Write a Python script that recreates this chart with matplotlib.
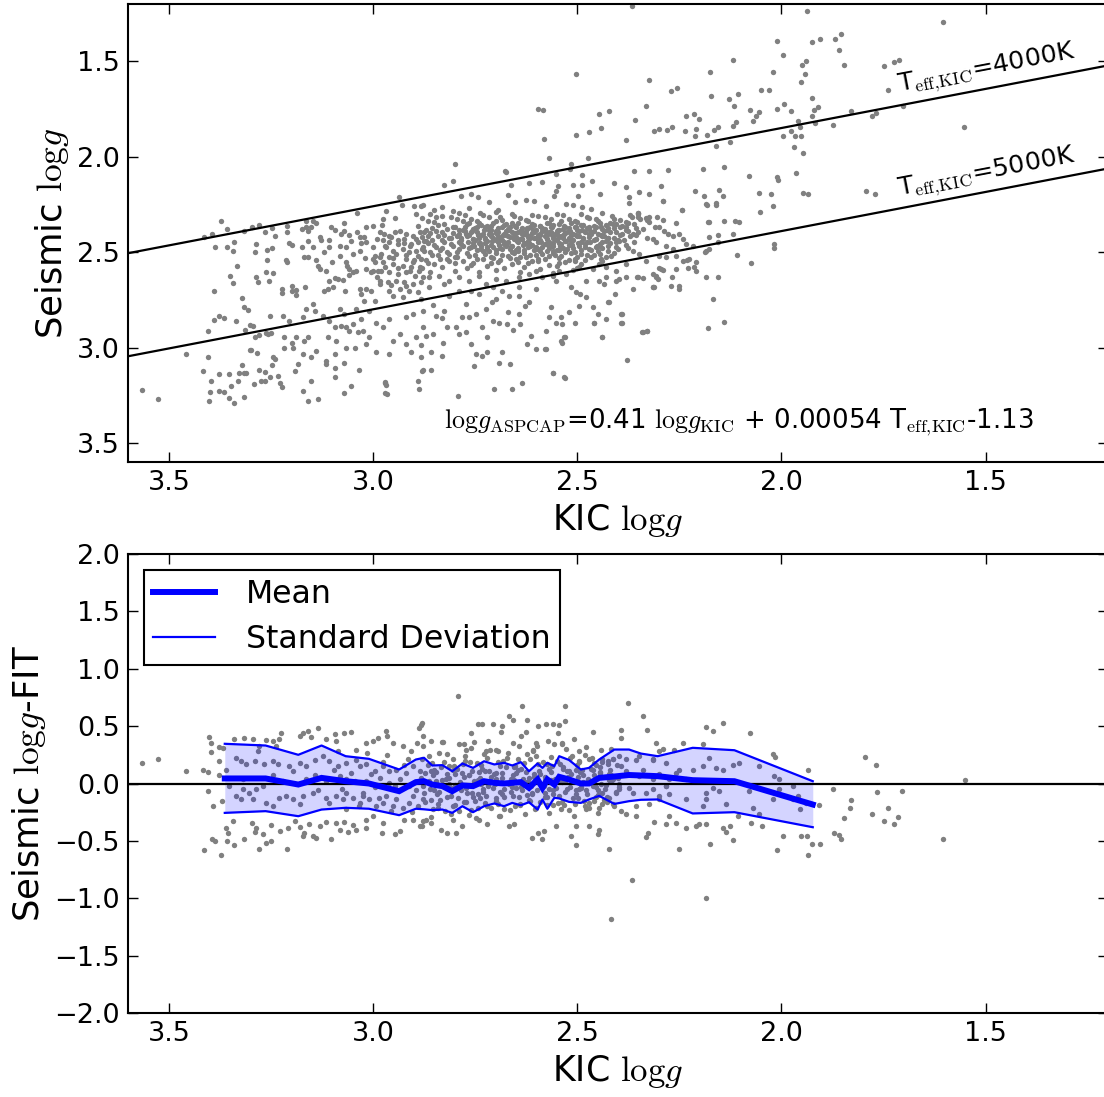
import matplotlib
matplotlib.use("Agg")
import matplotlib.pyplot as plt
import numpy as np

plt.rcParams['mathtext.fontset'] = 'cm'
plt.rcParams['font.family'] = ['DejaVu Sans']

# ---------------- data ----------------
fit_a, fit_b, fit_c = 0.41, 0.00054, -1.13
teff_lines = [4000, 5000]
teff_labels = [r'T$_{\rm eff,\!KIC}$=4000K', r'T$_{\rm eff,\!KIC}$=5000K']
xticks = [3.5, 3.0, 2.5, 2.0, 1.5]
top_yticks = [1.5, 2.0, 2.5, 3.0, 3.5]
bot_yticks = [-2.0, -1.5, -1.0, -0.5, 0.0, 0.5, 1.0, 1.5, 2.0]

# top panel: (KIC logg, seismic logg)
top_left = [
(3.566,3.222),(3.527,3.271),(3.458,3.035),(3.39,2.706),(3.387,2.475),(3.372,2.335),(3.415,2.422),(3.394,2.405),
(3.357,2.471),(3.344,2.496),(3.341,2.445),(3.351,2.625),(3.342,2.66),(3.333,2.573),(3.322,2.743),(3.315,2.786),
(3.305,2.806),(3.39,2.856),(3.376,2.834),(3.366,2.846),(3.405,2.912),(3.405,3.049),(3.417,3.122),(3.397,3.178),
(3.399,3.233),(3.402,3.28),(3.378,3.14),(3.378,3.227),(3.366,3.231),(3.352,3.14),(3.348,3.201),(3.352,3.266),
(3.34,3.292),(3.329,3.136),(3.33,3.175),(3.32,3.091),(3.315,3.136),(3.316,3.262),(3.335,2.86),(3.313,2.907),
(3.301,2.881),(3.295,2.886),(3.301,3.014),(3.29,2.944),(3.283,3.031),(3.28,3.119),(3.291,3.189),(3.275,3.177),
(3.264,3.175),(3.265,3.131),(3.247,3.091),(3.241,3.061),(3.252,3.157),(3.233,3.149),(3.228,3.184),(3.223,3.205),
(3.253,2.834),(3.258,2.93),(3.25,2.926),(3.286,2.629),(3.282,2.659),(3.255,2.653),(3.261,2.603),(3.246,2.61),
(3.259,2.541),(3.29,2.498),(3.286,2.457),(3.259,2.487),(3.248,2.48),(3.24,2.414),(3.264,2.393),(3.248,2.373),
(3.28,2.358),(3.296,2.366),(3.315,2.387),(3.357,2.379),(3.21,2.361),(3.21,2.396),(3.205,2.454),(3.199,2.463),
(3.214,2.541),(3.21,2.554),(3.223,2.694),(3.223,2.716),(3.199,2.676),(3.198,2.706),(3.188,2.699),(3.188,2.723),
(3.167,2.681),(3.173,2.475),(3.174,2.379),(3.164,2.366),(3.158,2.387),(3.152,2.37),(3.165,2.338),(3.147,2.338),
(3.139,2.349),(3.17,2.527),(3.16,2.524),(3.158,2.44),(3.131,2.422),(3.127,2.436),(3.108,2.436),(3.103,2.37),
(3.093,2.384),(3.072,2.349),(3.072,2.387),(3.04,2.295),(3.058,2.41),(3.039,2.393),(3.017,2.37),(3.0,2.361),
(2.978,2.356),(2.976,2.326),(2.968,2.286),(2.947,2.321),(2.93,2.251),(2.9,2.261),(2.883,2.256),(2.894,2.3),
(2.936,2.212),
]
top_left_dense = [
(2.984,2.396),(2.972,2.405),(2.96,2.414),(2.947,2.396),(2.935,2.387),(2.919,2.405),(2.902,2.414),(2.886,2.396),
(2.976,2.436),(2.96,2.449),(2.939,2.436),(2.923,2.454),(2.906,2.457),(2.89,2.449),(2.874,2.44),(2.968,2.475),
(2.951,2.492),(2.927,2.484),(2.911,2.501),(2.894,2.492),(2.878,2.475),(2.984,2.527),(2.96,2.527),(2.943,2.51),
(2.919,2.536),(2.902,2.554),(2.882,2.536),(2.996,2.554),(2.976,2.554),(2.951,2.562),(2.927,2.571),(2.906,2.58),
(2.886,2.58),(3.0,2.597),(2.98,2.597),(2.96,2.606),(2.939,2.615),(2.919,2.606),(2.898,2.624),(2.878,2.632),
(2.984,2.65),(2.964,2.659),(2.943,2.65),(2.923,2.659),(2.902,2.667),(2.882,2.659),(2.96,2.702),(2.935,2.694),
(2.911,2.702),(2.89,2.711),(2.951,2.729),(2.927,2.737),
(3.135,2.571),(3.131,2.589),(3.115,2.601),(3.107,2.65),(3.094,2.636),(3.085,2.641),(3.074,2.646),(3.066,2.554),
(3.063,2.571),(3.058,2.589),(3.049,2.606),(3.041,2.597),(3.033,2.492),(3.017,2.589),(3.004,2.606),(3.0,2.536),
(2.996,2.519),(2.988,2.597),(3.111,2.694),(3.098,2.681),(3.068,2.706),(3.033,2.694),(3.029,2.72),(3.017,2.694),
(3.021,2.755),(3.004,2.702),(2.996,2.755),(2.984,2.667),(3.119,2.702),(3.082,2.466),(3.066,2.475),(3.053,2.44),
(3.033,2.419),(3.021,2.422),(3.017,2.449),(3.0,2.475),(3.078,2.405),(3.107,2.475),(3.147,2.475),
(2.99,2.43),(2.97,2.47),(2.955,2.42),(2.94,2.46),(2.925,2.43),(2.91,2.47),(2.895,2.43),(2.98,2.51),(2.95,2.53),
(2.92,2.515),(2.90,2.54),(3.03,2.45),(3.05,2.51),(3.02,2.53),(3.08,2.52),(3.1,2.55),(3.06,2.62),(3.12,2.5),
(3.14,2.54),(2.97,2.58),(2.94,2.585),(2.91,2.6),(2.99,2.63),(2.955,2.675),(2.92,2.68),
]
top_left_low = [
(3.164,2.799),(3.147,2.772),(3.141,2.807),(3.123,2.834),(3.107,2.86),(3.094,2.895),(3.078,2.886),(3.066,2.895),
(3.058,2.912),(3.049,2.877),(3.037,2.921),(3.025,2.912),(3.009,2.947),(2.992,2.869),(2.976,2.895),(2.96,2.851),
(2.951,2.965),(2.935,2.93),(2.919,2.842),(2.902,2.825),(2.894,2.947),(2.878,2.895),(3.111,2.947),(3.09,2.965),
(3.066,3.0),(3.045,3.0),(3.017,2.982),(2.992,3.026),(2.96,3.035),(2.919,2.982),(2.906,3.026),(2.882,3.052),
(3.217,2.947),(3.198,2.974),(3.188,2.947),(3.168,2.965),(3.16,2.947),(3.197,3.0),(3.172,3.035),(3.152,3.052),
(3.139,3.017),(3.115,3.07),(3.094,3.035),(3.07,3.079),(3.094,3.105),(3.093,3.157),(3.152,3.175),(3.135,3.271),
(3.16,3.28),(3.172,3.227),(3.184,3.087),(3.192,3.122),(3.115,3.087),(3.054,3.201),(3.035,3.119),(3.072,3.241),
(2.97,3.184),(2.969,3.196),(2.965,3.245),(2.89,3.175),(2.888,3.219),(2.88,3.122),(3.221,2.834),(3.205,2.86),
(3.172,2.842),(3.217,3.003),(3.246,3.052),(3.311,3.136),(3.3,3.014),(3.28,2.935),(3.262,2.926),(3.082,2.799),
(3.041,2.799),(3.07,2.825),(3.029,2.851),(3.009,2.807),(2.971,3.18),(2.97,3.24),(2.857,3.12),(2.878,3.12),
(2.792,3.253),(2.704,3.22),(2.659,3.217),(2.635,3.187),
]
top_core = [
(2.86,2.301),(2.79,2.296),(2.73,2.305),(2.66,2.299),(2.61,2.306),(2.55,2.298),(2.49,2.303),(2.44,2.295),(2.37,2.307),(2.83,2.309),(2.70,2.292),
(2.88,2.322),(2.81,2.318),(2.76,2.326),(2.69,2.315),(2.64,2.324),(2.58,2.317),(2.52,2.328),(2.47,2.319),(2.41,2.325),(2.35,2.316),
(2.85,2.342),(2.78,2.338),(2.74,2.347),(2.70,2.336),(2.66,2.345),(2.62,2.339),(2.57,2.348),(2.54,2.335),(2.50,2.343),(2.45,2.337),(2.42,2.349),(2.38,2.341),(2.33,2.334),
(2.89,2.362),(2.84,2.357),(2.80,2.366),(2.77,2.355),(2.72,2.364),(2.68,2.358),(2.65,2.367),(2.61,2.354),(2.59,2.363),(2.56,2.359),(2.53,2.368),(2.49,2.356),(2.46,2.365),(2.43,2.358),(2.39,2.362),(2.36,2.355),(2.31,2.366),
(2.87,2.382),(2.82,2.378),(2.78,2.386),(2.75,2.375),(2.71,2.384),(2.67,2.379),(2.64,2.388),(2.62,2.376),(2.60,2.383),(2.58,2.377),(2.55,2.387),(2.52,2.374),(2.50,2.385),(2.47,2.379),(2.44,2.381),(2.41,2.376),(2.38,2.386),(2.34,2.379),
(2.86,2.402),(2.83,2.397),(2.79,2.406),(2.76,2.395),(2.73,2.404),(2.70,2.398),(2.68,2.407),(2.66,2.394),(2.63,2.403),(2.61,2.399),(2.59,2.408),(2.57,2.396),(2.55,2.404),(2.53,2.398),(2.51,2.406),(2.48,2.395),(2.45,2.403),(2.42,2.397),(2.39,2.405),(2.35,2.396),
(2.88,2.422),(2.84,2.417),(2.81,2.426),(2.77,2.415),(2.74,2.424),(2.71,2.418),(2.69,2.427),(2.67,2.414),(2.65,2.423),(2.62,2.419),(2.60,2.428),(2.58,2.416),(2.56,2.424),(2.54,2.418),(2.52,2.426),(2.50,2.415),(2.47,2.423),(2.44,2.417),(2.41,2.425),(2.37,2.416),(2.33,2.424),
(2.87,2.442),(2.83,2.437),(2.79,2.446),(2.75,2.435),(2.72,2.444),(2.70,2.438),(2.67,2.447),(2.64,2.434),(2.62,2.443),(2.59,2.439),(2.57,2.448),(2.55,2.436),(2.53,2.444),(2.51,2.438),(2.49,2.446),(2.46,2.435),(2.43,2.443),(2.40,2.437),(2.36,2.445),
(2.85,2.462),(2.81,2.457),(2.78,2.466),(2.74,2.455),(2.71,2.464),(2.68,2.458),(2.66,2.467),(2.63,2.454),(2.61,2.463),(2.58,2.459),(2.56,2.468),(2.54,2.456),(2.52,2.464),(2.48,2.458),(2.45,2.466),(2.42,2.455),(2.38,2.463),
(2.88,2.482),(2.83,2.477),(2.79,2.486),(2.76,2.475),(2.72,2.484),(2.69,2.478),(2.65,2.487),(2.62,2.474),(2.60,2.483),(2.57,2.479),(2.55,2.488),(2.51,2.476),(2.47,2.484),(2.44,2.478),(2.40,2.486),
(2.86,2.502),(2.82,2.497),(2.77,2.506),(2.73,2.495),(2.70,2.504),(2.66,2.498),(2.63,2.507),(2.59,2.494),(2.56,2.503),(2.53,2.499),(2.49,2.508),(2.45,2.496),(2.41,2.504),
(2.89,2.522),(2.84,2.517),(2.80,2.526),(2.75,2.515),(2.71,2.524),(2.67,2.518),(2.64,2.527),(2.60,2.514),(2.57,2.523),(2.54,2.519),(2.50,2.528),(2.46,2.516),(2.43,2.524),
(2.87,2.542),(2.82,2.537),(2.78,2.546),(2.73,2.535),(2.69,2.544),(2.65,2.538),(2.61,2.547),(2.58,2.534),(2.52,2.543),(2.48,2.539),(2.44,2.546),
(2.85,2.562),(2.80,2.557),(2.76,2.566),(2.71,2.555),(2.66,2.564),(2.62,2.558),(2.57,2.567),(2.53,2.554),(2.49,2.563),
(2.88,2.582),(2.83,2.577),(2.77,2.586),(2.72,2.575),(2.68,2.584),(2.63,2.578),(2.59,2.587),(2.55,2.574),(2.50,2.583),
(2.86,2.602),(2.80,2.597),(2.74,2.606),(2.70,2.595),(2.64,2.604),(2.60,2.598),(2.56,2.607),(2.51,2.594),
]
top_core2 = [
(2.845,2.315),(2.775,2.308),(2.715,2.318),(2.655,2.310),(2.595,2.313),(2.535,2.306),(2.475,2.316),(2.415,2.309),(2.365,2.314),
(2.865,2.335),(2.795,2.328),(2.745,2.338),(2.685,2.330),(2.625,2.333),(2.565,2.326),(2.505,2.336),(2.455,2.329),(2.395,2.334),(2.345,2.327),
(2.825,2.355),(2.765,2.348),(2.735,2.358),(2.705,2.350),(2.675,2.353),(2.645,2.346),(2.605,2.356),(2.575,2.349),(2.545,2.354),(2.515,2.347),(2.485,2.357),(2.445,2.350),(2.405,2.353),(2.375,2.346),
(2.855,2.375),(2.805,2.368),(2.755,2.378),(2.725,2.370),(2.695,2.373),(2.665,2.366),(2.635,2.376),(2.615,2.369),(2.585,2.374),(2.565,2.367),(2.535,2.377),(2.505,2.370),(2.475,2.373),(2.455,2.366),(2.425,2.376),(2.395,2.369),(2.355,2.374),
(2.875,2.395),(2.845,2.388),(2.805,2.398),(2.775,2.390),(2.745,2.393),(2.715,2.386),(2.695,2.396),(2.675,2.389),(2.645,2.394),(2.625,2.387),(2.605,2.397),(2.585,2.390),(2.565,2.393),(2.545,2.386),(2.525,2.396),(2.495,2.389),(2.465,2.394),(2.435,2.387),(2.405,2.397),(2.375,2.390),
(2.865,2.415),(2.825,2.408),(2.795,2.418),(2.765,2.410),(2.735,2.413),(2.715,2.406),(2.695,2.416),(2.675,2.409),(2.655,2.414),(2.635,2.407),(2.615,2.417),(2.595,2.410),(2.575,2.413),(2.555,2.406),(2.535,2.416),(2.515,2.409),(2.495,2.414),(2.465,2.407),(2.435,2.417),(2.395,2.410),(2.355,2.413),
(2.855,2.435),(2.815,2.428),(2.785,2.438),(2.755,2.430),(2.725,2.433),(2.705,2.426),(2.685,2.436),(2.655,2.429),(2.635,2.434),(2.615,2.427),(2.595,2.437),(2.575,2.430),(2.555,2.433),(2.535,2.426),(2.515,2.436),(2.485,2.429),(2.455,2.434),(2.425,2.427),(2.385,2.437),
(2.865,2.455),(2.825,2.448),(2.785,2.458),(2.755,2.450),(2.725,2.453),(2.695,2.446),(2.675,2.456),(2.645,2.449),(2.625,2.454),(2.595,2.447),(2.575,2.457),(2.545,2.450),(2.515,2.453),(2.475,2.446),(2.445,2.456),(2.405,2.449),
(2.845,2.475),(2.805,2.468),(2.765,2.478),(2.735,2.470),(2.705,2.473),(2.675,2.466),(2.645,2.476),(2.615,2.469),(2.585,2.474),(2.565,2.467),(2.535,2.477),(2.495,2.470),(2.455,2.473),(2.425,2.466),(2.375,2.476),
(2.875,2.495),(2.835,2.488),(2.795,2.498),(2.745,2.490),(2.715,2.493),(2.685,2.486),(2.645,2.496),(2.605,2.489),(2.575,2.494),(2.545,2.487),(2.505,2.497),(2.465,2.490),(2.425,2.493),
(2.855,2.515),(2.815,2.508),(2.765,2.518),(2.725,2.510),(2.685,2.513),(2.655,2.506),(2.615,2.516),(2.585,2.509),(2.555,2.514),(2.515,2.507),(2.475,2.517),(2.445,2.510),
(2.835,2.535),(2.795,2.528),(2.745,2.538),(2.705,2.530),(2.665,2.533),(2.625,2.526),(2.595,2.536),(2.545,2.529),(2.505,2.534),(2.465,2.527),
(2.865,2.555),(2.815,2.548),(2.755,2.558),(2.695,2.550),(2.645,2.553),(2.595,2.546),(2.545,2.556),(2.505,2.549),
]
top_core3 = [
(2.775,2.366),(2.745,2.371),(2.712,2.364),(2.683,2.369),(2.652,2.362),(2.622,2.372),(2.592,2.365),(2.562,2.37),(2.532,2.363),(2.502,2.371),(2.472,2.366),(2.442,2.369),
(2.79,2.386),(2.758,2.391),(2.728,2.384),(2.698,2.389),(2.668,2.382),(2.638,2.392),(2.608,2.385),(2.578,2.39),(2.548,2.383),(2.518,2.391),(2.488,2.386),(2.458,2.389),(2.428,2.384),
(2.772,2.406),(2.742,2.411),(2.712,2.404),(2.682,2.409),(2.652,2.402),(2.622,2.412),(2.592,2.405),(2.562,2.41),(2.532,2.403),(2.502,2.411),(2.472,2.406),(2.442,2.409),
(2.785,2.426),(2.755,2.431),(2.725,2.424),(2.695,2.429),(2.665,2.422),(2.635,2.432),(2.605,2.425),(2.575,2.43),(2.545,2.423),(2.515,2.431),(2.485,2.426),(2.455,2.429),(2.425,2.424),
(2.768,2.446),(2.738,2.451),(2.708,2.444),(2.678,2.449),(2.648,2.442),(2.618,2.452),(2.588,2.445),(2.558,2.45),(2.528,2.443),(2.498,2.451),(2.468,2.446),(2.438,2.449),
(2.752,2.466),(2.722,2.471),(2.692,2.464),(2.662,2.469),(2.632,2.462),(2.602,2.472),(2.572,2.465),(2.542,2.47),(2.512,2.463),(2.482,2.471),(2.452,2.466),
(2.735,2.486),(2.70,2.491),(2.665,2.484),(2.63,2.489),(2.595,2.482),(2.56,2.492),(2.525,2.485),(2.49,2.49),
]
top_mid = [
(2.38,2.16),(2.212,2.181),(2.784,2.205),(2.76,2.198),(2.742,2.209),(2.717,2.239),(2.669,2.2),(2.653,2.239),
(2.626,2.226),(2.605,2.23),(2.577,2.256),(2.556,2.204),(2.552,2.181),(2.527,2.247),(2.511,2.251),(2.499,2.204),
(2.487,2.265),(2.466,2.274),(2.444,2.198),(2.372,2.212),(2.374,2.244),(2.348,2.186),(2.323,2.198),(2.289,2.23),
(2.183,2.251),(2.16,2.244),(2.877,2.251),(2.85,2.282),(2.83,2.265),(2.805,2.286),(2.764,2.268),(2.738,2.295),
(2.693,2.279),(2.243,2.279),(2.352,2.296),
(2.352,2.3),(2.331,2.321),(2.323,2.344),(2.305,2.314),(2.299,2.37),(2.287,2.387),(2.278,2.405),(2.266,2.414),
(2.25,2.405),(2.242,2.431),(2.233,2.457),(2.217,2.466),(2.184,2.492),(2.176,2.484),(2.156,2.449),(2.315,2.431),
(2.307,2.449),(2.282,2.466),(2.266,2.484),(2.299,2.519),(2.282,2.527),(2.258,2.519),(2.242,2.545),(2.225,2.536),
(2.209,2.554),(2.299,2.583),(2.258,2.589),(2.229,2.583),(2.315,2.615),(2.291,2.594),(2.352,2.629),(2.34,2.636),
(2.307,2.624),(2.303,2.641),(2.315,2.681),(2.27,2.676),(2.25,2.694),(2.18,2.344),(2.258,2.349),(2.413,2.352),
(2.38,2.37),(2.364,2.405),(2.397,2.44),(2.405,2.475),(2.364,2.492),(2.348,2.51),(2.331,2.545),(2.38,2.562),
(2.405,2.597),(2.43,2.633),(2.397,2.641),(2.417,2.519),(2.442,2.536),(2.446,2.562),
(2.887,2.597),(2.862,2.633),(2.838,2.624),(2.813,2.65),(2.789,2.633),(2.764,2.65),(2.74,2.624),(2.724,2.667),
(2.862,2.685),(2.826,2.667),(2.699,2.641),(2.675,2.65),(2.642,2.633),(2.617,2.615),(2.585,2.633),(2.56,2.624),
(2.544,2.597),(2.527,2.615),(2.495,2.58),(2.462,2.589),(2.43,2.58),
]
top_mid_low = [
(2.883,2.746),(2.854,2.776),(2.877,2.811),(2.826,2.807),(2.846,2.834),(2.831,2.846),(2.818,2.895),(2.854,2.93),
(2.871,2.939),(2.828,2.979),(2.883,2.986),(2.858,3.026),(2.83,3.044),(2.789,2.93),(2.797,2.895),(2.773,2.921),
(2.764,2.842),(2.76,2.982),(2.748,3.035),(2.752,3.096),(2.732,3.047),(2.72,3.026),(2.72,2.947),(2.732,2.895),
(2.706,2.86),(2.691,2.869),(2.709,2.764),(2.699,2.746),(2.673,2.877),(2.657,2.909),(2.691,3.079),(2.665,3.084),
(2.683,3.026),(2.64,2.877),(2.627,2.781),(2.617,2.764),(2.613,2.939),(2.624,2.982),(2.6,3.009),(2.578,3.009),
(2.577,2.912),(2.57,2.839),(2.564,2.79),(2.552,2.869),(2.536,2.877),(2.532,2.947),(2.536,2.974),(2.56,3.136),
(2.532,3.157),(2.519,2.816),(2.495,2.781),(2.478,2.737),(2.458,2.869),(2.448,2.825),(2.44,2.947),(2.423,2.764),
(2.393,2.825),(2.393,2.869),(2.378,3.066),(2.341,2.921),(2.329,2.912),(2.315,2.685),(2.18,2.9),(2.168,2.746),
(2.209,2.601),(2.295,2.589),(2.184,2.629),(2.601,2.694),(2.552,2.65),(2.515,2.685),(2.503,2.711),(2.446,2.65),
(2.405,2.65),(2.479,2.65),(2.38,2.633),(2.683,2.702),(2.666,2.729),(2.642,2.729),(2.642,2.685),(2.707,2.685),
(2.74,2.72),(2.76,2.702),(2.789,2.702),(2.813,2.729),(2.773,2.772),(2.724,2.799),(2.748,2.825),(2.67,2.816),
(2.642,2.825),(2.781,2.842),(2.141,2.867),(2.108,2.513),(2.075,2.557),(2.018,2.457),(2.018,2.478),
(2.243,2.279),(2.289,2.23),(2.35,2.296),(2.324,2.314),(2.289,2.331),(2.39,2.874),(2.39,2.825),(2.43,2.851),
(2.439,2.947),(2.458,2.874),(2.505,2.874),(2.54,2.842),(2.425,2.764),(2.461,2.79),(2.492,2.72),(2.434,2.667),
(2.364,2.694),(2.408,2.72),(2.267,2.632),(2.251,2.676),(2.306,2.629),(2.313,2.681),(2.353,2.632),(2.154,2.629),
(2.231,2.54),(2.214,2.58),(2.187,2.501),(2.34,2.921),(2.328,2.912),(2.531,3.161),(2.558,3.136),(2.54,2.965),
(2.53,2.947),(2.577,3.008),
]
top_upper = [
(2.366,1.21),(2.503,1.568),(2.325,1.6),(2.271,1.656),(2.256,1.638),(2.596,1.75),(2.583,1.757),(2.447,1.778),
(2.423,1.763),(2.331,1.733),(2.358,1.81),(2.581,1.908),(2.503,1.889),(2.47,1.871),(2.442,1.848),(2.38,1.915),
(2.313,1.866),(2.299,1.855),(2.281,1.862),(2.268,1.845),(2.236,1.868),(2.233,1.789),(2.215,1.775),(2.209,1.854),
(2.212,1.892),(2.201,1.803),(2.799,2.037),(2.827,2.151),(2.805,2.13),(2.675,2.079),(2.662,2.148),(2.617,2.139),
(2.586,2.135),(2.568,2.009),(2.552,2.093),(2.548,2.156),(2.515,2.037),(2.518,2.067),(2.509,2.146),(2.474,2.009),
(2.487,2.097),(2.488,2.146),(2.464,2.125),(2.411,2.137),(2.36,2.074),(2.323,2.076),(2.278,2.072),(2.294,2.155),
(2.676,2.077),
(1.936,1.238),(1.605,1.295),(2.011,1.393),(1.925,1.399),(1.905,1.386),(1.869,1.381),(1.854,1.358),(1.858,1.439),
(1.846,1.518),(1.995,1.469),(2.119,1.493),(2.174,1.558),(2.021,1.558),(1.94,1.5),(1.949,1.519),(1.941,1.568),
(1.953,1.61),(2.05,1.652),(2.031,1.649),(2.105,1.672),(2.129,1.698),(2.173,1.68),(2.116,1.733),(2.076,1.757),
(2.062,1.789),(2.054,1.766),(2.07,1.815),(2.011,1.75),(1.993,1.724),(1.977,1.761),(1.926,1.694),(1.919,1.754),
(1.91,1.742),(1.926,1.787),(1.918,1.822),(1.96,1.813),(1.954,1.845),(1.976,1.866),(1.995,1.894),(1.966,1.894),
(1.953,1.894),(1.97,1.95),(1.948,1.98),(1.874,1.833),(1.829,1.761),(1.779,1.789),(1.768,1.77),(1.748,1.523),
(1.725,1.505),(1.713,1.491),(1.739,1.652),(1.703,1.733),(1.552,1.845),(2.111,1.819),(2.119,1.841),(2.156,1.845),
(2.164,1.862),(2.181,1.889),(2.16,1.945),(2.126,1.924),(2.14,2.055),(2.193,2.064),(2.08,2.102),(2.011,2.104),
(2.007,2.12),(1.963,2.085),(2.054,2.188),(2.025,2.198),(1.946,2.188),(1.935,2.198),(1.793,2.181),(1.77,2.195),
(2.152,2.174),(2.144,2.204),(2.189,2.204),(2.185,2.247),(2.16,2.251),(2.052,2.291),(2.021,2.256),(2.178,2.34),
(2.14,2.338),(2.113,2.335),(2.103,2.344),(2.176,2.422),(2.154,2.41),(2.119,2.405),
]

# bottom panel: (KIC logg, seismic logg - fit)
bot_left = [
(3.566,0.18),(3.527,0.215),(3.458,0.107),(3.417,0.122),(3.405,0.099),(3.405,-0.067),(3.402,0.407),(3.397,0.354),
(3.397,0.276),(3.391,-0.198),(3.378,0.317),(3.378,0.2),(3.378,0.07),(3.368,0.311),(3.37,-0.154),(3.415,-0.581),
(3.372,-0.622),(3.394,-0.488),(3.386,-0.503),(3.36,-0.392),(3.357,-0.503),(3.341,-0.532),(3.315,-0.482),(3.356,-0.43),
(3.343,-0.328),(3.296,-0.343),(3.286,-0.386),(3.288,-0.424),(3.27,-0.444),(3.278,-0.569),(3.263,-0.517),(3.25,-0.503),
(3.251,-0.366),(3.211,-0.569),(3.228,-0.415),(3.209,-0.386),(3.192,-0.328),(3.18,-0.378),(3.168,-0.43),(3.172,-0.459),
(3.157,-0.349),(3.147,-0.459),(3.139,-0.474),(3.131,-0.372),(3.116,-0.337),(3.103,-0.488),(3.09,-0.343),(3.082,-0.401),
(3.07,-0.337),(3.062,-0.424),(3.049,-0.366),(3.041,-0.401),(3.018,-0.386),(3.017,-0.314),(3.0,-0.285),(2.978,-0.43),
(2.976,-0.343),(2.947,-0.436),(2.935,-0.415),(2.925,-0.32),(2.902,-0.314),(2.886,-0.372),(2.878,-0.328),
(3.341,0.389),(3.315,0.398),(3.295,0.389),(3.278,0.325),(3.262,0.383),(3.246,0.369),(3.229,0.389),(3.225,0.442),
(3.237,0.325),(3.18,0.418),(3.172,0.442),(3.16,0.456),(3.152,0.407),(3.134,0.485),(3.115,0.389),(3.093,0.433),
(3.09,0.369),(3.072,0.436),(3.054,0.447),(3.041,0.296),(3.018,0.354),(3.0,0.369),(2.988,0.398),(2.969,0.456),
(2.966,0.418),(2.951,0.354),(2.927,0.325),(2.906,0.282),(2.893,0.354),(2.882,0.514),(2.888,0.485),(2.878,0.413),
(3.335,0.224),(3.323,0.195),(3.311,0.166),(3.29,0.195),(3.282,0.282),(3.266,0.166),(3.246,0.195),(3.233,0.166),
(3.205,0.151),(3.197,0.107),(3.18,0.18),(3.164,0.151),(3.143,0.209),(3.123,0.238),(3.107,0.195),(3.086,0.151),
(3.066,0.18),(3.041,0.209),(3.033,0.151),(3.017,0.166),(2.996,0.107),(2.976,0.151),(2.96,0.107),(2.943,0.122),
(2.919,0.093),(2.902,0.151),(2.886,0.107),
(3.335,-0.11),(3.319,-0.052),(3.303,-0.081),(3.286,-0.052),(3.323,-0.139),(3.295,-0.139),(3.262,-0.168),(3.246,-0.192),
(3.229,-0.125),(3.213,-0.11),(3.197,-0.139),(3.18,-0.183),(3.172,-0.11),(3.147,-0.081),(3.135,-0.058),(3.115,-0.125),
(3.107,-0.168),(3.09,-0.11),(3.074,-0.139),(3.066,-0.081),(3.049,-0.125),(3.033,-0.168),(3.025,-0.11),(3.009,-0.139),
(2.992,-0.198),(2.976,-0.168),(2.968,-0.11),(2.951,-0.198),(2.943,-0.139),(2.927,-0.212),(2.911,-0.168),(2.902,-0.11),
(2.89,-0.198),(2.878,-0.139),(3.27,-0.023),(3.221,0.02),(3.164,0.035),(3.115,0.02),(3.066,0.035),(3.017,0.02),
(2.96,0.006),(2.911,-0.023),(3.246,0.078),(3.143,0.078),(3.082,0.064),(2.984,0.049),(3.319,0.035),(3.36,0.122),
(3.352,-0.023),
]
bot_mid = [
(2.791,0.761),(2.635,0.679),(2.531,0.674),(2.376,0.703),(2.879,0.523),(2.742,0.52),(2.732,0.52),(2.706,0.52),
(2.683,0.499),(2.666,0.587),(2.658,0.552),(2.622,0.552),(2.597,0.499),(2.577,0.52),(2.56,0.52),(2.545,0.514),
(2.529,0.543),(2.34,0.587),(2.329,0.464),(2.393,0.47),(2.393,0.398),(2.462,0.447),(2.507,0.389),(2.548,0.436),
(2.572,0.369),(2.76,0.436),(2.752,0.36),(2.687,0.447),(2.638,0.418),(2.626,0.447),(2.601,0.354),(2.536,0.354),
(2.556,0.34),(2.307,0.354),(2.299,0.282),(2.262,0.296),(2.858,0.369),(2.83,0.36),(2.789,0.34),(2.773,0.296),
(2.724,0.282),(2.699,0.29),(2.642,0.325),(2.609,0.282),(2.442,0.296),(2.397,0.238),(2.356,0.209),(2.315,0.209),
(2.282,0.18),(2.38,0.107),(2.348,0.064),(2.315,0.035),(2.282,-0.023),(2.258,0.093),(2.413,0.035),(2.397,-0.052),
(2.364,-0.081),(2.331,-0.081),(2.299,-0.11),(2.38,-0.264),(2.356,-0.285),(2.311,-0.337),(2.282,-0.357),(2.274,-0.285),
(2.258,-0.343),(2.327,-0.43),(2.331,-0.465),(2.446,-0.401),(2.47,-0.372),(2.503,-0.372),(2.515,-0.459),(2.503,-0.532),
(2.552,-0.372),(2.581,-0.415),(2.585,-0.488),(2.597,-0.43),(2.611,-0.474),(2.423,-0.575),(2.666,-0.372),(2.654,-0.357),
(2.691,-0.285),(2.72,-0.357),(2.74,-0.314),(2.781,-0.372),(2.797,-0.43),(2.818,-0.43),(2.834,-0.407),(2.858,-0.343),
(2.879,-0.372),(2.871,-0.314),(2.805,-0.314),(2.764,-0.271),(2.25,-0.575),(2.366,-0.838),(2.448,-0.444),
]
bot_core = [
(2.88,0.21),(2.86,-0.05),(2.85,0.12),(2.84,-0.18),(2.83,0.03),(2.82,0.26),(2.81,-0.11),(2.80,0.08),(2.79,-0.24),
(2.78,0.17),(2.77,-0.02),(2.76,0.31),(2.75,-0.15),(2.74,0.10),(2.73,-0.07),(2.72,0.22),(2.71,-0.21),(2.70,0.04),
(2.69,0.15),(2.68,-0.12),(2.67,0.27),(2.66,-0.03),(2.65,0.09),(2.64,-0.19),(2.63,0.18),(2.62,0.01),(2.61,-0.09),
(2.60,0.24),(2.59,-0.16),(2.58,0.06),(2.57,0.13),(2.56,-0.06),(2.55,0.20),(2.54,-0.22),(2.53,0.02),(2.52,0.11),
(2.51,-0.13),(2.50,0.16),(2.49,-0.04),(2.48,0.25),(2.47,-0.17),(2.46,0.07),(2.45,-0.10),(2.44,0.19),(2.43,-0.01),
(2.42,0.12),(2.41,-0.20),(2.40,0.05),
(2.875,-0.08),(2.865,0.16),(2.845,0.02),(2.835,-0.14),(2.825,0.19),(2.815,0.05),(2.805,-0.20),(2.795,0.13),
(2.785,-0.06),(2.775,0.24),(2.765,0.07),(2.755,-0.12),(2.745,0.18),(2.735,0.00),(2.725,-0.17),(2.715,0.11),
(2.705,-0.04),(2.695,0.28),(2.685,-0.09),(2.675,0.14),(2.665,-0.23),(2.655,0.03),(2.645,0.21),(2.635,-0.06),
(2.625,0.10),(2.615,-0.15),(2.605,0.06),(2.595,0.17),(2.585,-0.02),(2.575,-0.19),(2.565,0.23),(2.555,0.04),
(2.545,-0.11),(2.535,0.14),(2.525,-0.05),(2.515,0.08),(2.505,-0.18),(2.495,0.20),(2.485,0.01),(2.475,-0.09),
(2.465,0.13),(2.455,-0.03),(2.445,0.09),(2.435,-0.14),(2.425,0.17),(2.415,0.03),(2.405,-0.07),
(2.872,0.09),(2.852,-0.22),(2.838,0.27),(2.818,-0.03),(2.802,0.15),(2.788,0.01),(2.772,-0.16),(2.758,0.11),
(2.742,-0.09),(2.728,0.26),(2.712,0.06),(2.698,-0.13),(2.682,0.20),(2.668,0.00),(2.652,-0.20),(2.638,0.13),
(2.622,-0.10),(2.608,0.29),(2.592,0.08),(2.578,-0.08),(2.562,0.15),(2.548,-0.17),(2.532,0.05),(2.518,0.22),
(2.502,-0.09),(2.488,0.12),(2.472,-0.21),(2.458,0.18),(2.442,0.00),(2.428,-0.16),(2.412,0.21),(2.398,-0.03),
(2.878,0.33),(2.858,-0.29),(2.828,0.36),(2.808,-0.27),(2.778,0.34),(2.748,-0.30),(2.718,0.37),(2.688,-0.28),
(2.658,0.35),(2.628,-0.27),(2.598,0.33),(2.568,-0.26),(2.538,0.34),(2.508,-0.28),(2.478,0.32),(2.448,-0.26),
(2.418,0.30),(2.392,-0.24),
]
bot_core2 = [
(2.883,0.05),(2.873,-0.16),(2.862,0.24),(2.853,0.07),(2.843,-0.09),(2.833,0.14),(2.823,-0.24),(2.813,0.00),
(2.803,0.21),(2.793,-0.13),(2.783,0.09),(2.773,-0.04),(2.763,0.19),(2.753,0.02),(2.743,-0.21),(2.733,0.13),
(2.723,-0.11),(2.713,0.29),(2.703,0.08),(2.693,-0.18),(2.683,0.05),(2.673,0.22),(2.663,-0.07),(2.653,0.15),
(2.643,-0.12),(2.633,0.04),(2.623,0.26),(2.613,-0.02),(2.603,-0.22),(2.593,0.11),(2.583,0.19),(2.573,-0.12),
(2.563,0.03),(2.553,-0.04),(2.543,0.17),(2.533,-0.19),(2.523,0.06),(2.513,0.24),(2.503,-0.06),(2.493,0.10),
(2.483,-0.15),(2.473,0.04),(2.463,0.22),(2.453,-0.12),(2.443,0.14),(2.433,-0.05),(2.423,0.08),(2.413,-0.18),
(2.403,0.16),
(2.878,-0.02),(2.858,0.11),(2.838,-0.07),(2.818,0.08),(2.798,-0.01),(2.778,0.06),(2.758,-0.08),(2.738,0.05),
(2.718,-0.02),(2.698,0.09),(2.678,-0.05),(2.658,0.07),(2.638,-0.03),(2.618,0.05),(2.598,-0.06),(2.578,0.03),
(2.558,-0.09),(2.538,0.01),(2.518,-0.03),(2.498,0.06),(2.478,-0.06),(2.458,0.02),(2.438,-0.08),(2.418,0.07),
(2.398,0.00),
(3.095,0.12),(3.075,-0.05),(3.055,0.09),(3.035,-0.2),(3.015,0.27),(2.995,-0.03),(2.975,0.19),(2.955,-0.24),
(2.935,0.04),(2.915,0.21),(2.895,-0.06),(3.085,0.28),(3.065,-0.22),(3.045,0.02),(3.025,-0.08),(3.005,0.08),
(2.985,-0.13),(2.965,0.25),(2.945,-0.02),(2.925,0.16),(2.905,-0.25),
]
bot_core3 = [
(2.855,0.18),(2.815,0.15),(2.775,0.20),(2.735,0.16),(2.695,0.19),(2.655,0.14),(2.615,0.21),(2.575,0.17),(2.535,0.13),(2.495,0.19),(2.455,0.16),(2.425,0.20),
(2.845,0.10),(2.805,0.12),(2.765,0.07),(2.725,0.11),(2.685,0.09),(2.645,0.12),(2.605,0.08),(2.565,0.10),(2.525,0.11),(2.485,0.07),(2.445,0.10),
(2.862,0.02),(2.822,0.04),(2.782,-0.01),(2.742,0.03),(2.702,0.00),(2.662,0.04),(2.622,0.01),(2.582,-0.02),(2.542,0.03),(2.502,0.02),(2.462,0.00),(2.422,0.03),
(2.85,-0.06),(2.81,-0.04),(2.77,-0.08),(2.73,-0.05),(2.69,-0.07),(2.65,-0.04),(2.61,-0.08),(2.57,-0.05),(2.53,-0.07),(2.49,-0.03),(2.45,-0.06),
(2.858,-0.14),(2.818,-0.12),(2.778,-0.16),(2.738,-0.13),(2.698,-0.15),(2.658,-0.11),(2.618,-0.14),(2.578,-0.12),(2.538,-0.16),(2.498,-0.13),(2.458,-0.15),(2.428,-0.12),
(2.84,-0.21),(2.80,-0.19),(2.76,-0.23),(2.72,-0.20),(2.68,-0.22),(2.64,-0.18),(2.60,-0.21),(2.56,-0.19),(2.52,-0.23),(2.48,-0.20),(2.44,-0.18),
]
bot_right = [
(2.184,0.491),(2.168,0.456),(2.142,0.529),(2.077,0.442),(2.021,0.253),(2.015,0.233),(1.935,0.122),(1.794,0.233),
(1.768,0.157),(1.766,-0.07),(1.779,-0.264),(1.829,-0.148),(1.833,-0.212),(1.847,-0.305),(1.874,-0.046),(1.87,-0.43),
(1.858,-0.453),(1.854,-0.488),(1.908,-0.188),(1.905,-0.523),(1.925,-0.523),(1.935,-0.624),(1.938,-0.459),(1.952,-0.459),
(1.995,-0.459),(2.011,-0.581),(2.047,-0.372),(2.074,-0.348),(2.107,-0.284),(2.126,-0.372),(2.119,-0.496),(2.136,-0.424),
(2.142,-0.386),(2.174,-0.531),(2.184,-0.357),(2.201,-0.357),(2.209,-0.372),(2.234,-0.392),(2.184,-1.0),
(2.193,0.34),(2.176,0.224),(2.16,0.137),(2.144,0.122),(2.119,0.157),(2.103,0.18),(2.054,0.151),(2.017,0.064),
(2.005,0.035),(2.184,-0.081),(2.168,-0.038),(2.152,-0.067),(2.136,-0.183),(2.184,-0.139),(2.193,-0.197),(2.078,-0.067),
(2.07,-0.212),(2.054,-0.27),(2.021,-0.139),(2.005,-0.052),(1.972,-0.139),(1.96,-0.11),(1.954,-0.226),(1.939,-0.168),
(1.972,-0.023),(2.25,0.122),(2.274,0.035),(2.299,0.079),(2.283,-0.023),(2.234,0.035),(2.217,0.122),(2.315,-0.052),
(2.34,0.122),(2.348,0.239),(2.381,0.21),(2.393,0.151),(2.372,-0.038),(2.405,-0.081),(2.421,-0.125),(2.234,-0.139),
(2.274,-0.095),(2.299,-0.139),(2.323,-0.183),(2.356,-0.197),(2.446,-0.212),(2.479,-0.226),(2.462,-0.023),(2.495,-0.052),
(2.438,0.21),(2.47,0.21),(2.495,0.282),(2.528,0.297),(2.503,0.122),(2.462,0.122),(2.413,0.21),(2.242,0.355),
(2.291,0.297),(2.315,0.21),(2.193,0.151),
(1.551,0.028),(1.604,-0.481),(1.704,-0.062),(1.714,-0.289),(1.724,-0.351),(1.739,-0.211),(1.748,-0.329),(2.417,-1.18),
]

# binned statistics of residuals
bin_x = [3.363, 3.263, 3.183, 3.126, 3.067, 3.010, 2.936, 2.895, 2.875, 2.855, 2.830, 2.806, 2.781, 2.755,
         2.728, 2.703, 2.679, 2.659, 2.638, 2.618, 2.597, 2.585, 2.573, 2.556, 2.544, 2.520, 2.491, 2.471,
         2.446, 2.409, 2.373, 2.344, 2.303, 2.217, 2.115, 1.923]
bin_upper = [0.346, 0.331, 0.250, 0.331, 0.238, 0.215, 0.122, 0.209, 0.224, 0.157, 0.160, 0.107, 0.174, 0.136,
             0.194, 0.166, 0.180, 0.157, 0.186, 0.107, 0.174, 0.136, 0.180, 0.151, 0.238, 0.205, 0.122, 0.136,
             0.209, 0.296, 0.296, 0.261, 0.238, 0.311, 0.290, 0.020]
bin_lower = [-0.256, -0.241, -0.285, -0.227, -0.212, -0.220, -0.276, -0.220, -0.225, -0.232, -0.227, -0.256, -0.198, -0.250,
             -0.198, -0.174, -0.198, -0.169, -0.190, -0.163, -0.227, -0.139, -0.220, -0.125, -0.130, -0.160, -0.169, -0.139,
             -0.108, -0.178, -0.154, -0.142, -0.139, -0.261, -0.250, -0.381]
bin_mean = [0.044, 0.044, -0.009, 0.049, 0.020, 0.000, -0.067, 0.012, 0.020, -0.009, -0.023, -0.067, -0.017, -0.023,
            0.020, 0.006, 0.000, 0.006, 0.012, -0.038, 0.035, -0.038, 0.035, -0.009, 0.058, 0.035, 0.000, 0.000,
            0.049, 0.061, 0.074, 0.070, 0.064, 0.029, 0.020, -0.183]

# ---------------- figure ----------------
W, H = 1104, 1097
fig = plt.figure(figsize=(W / 100, H / 100), dpi=100)
ax1 = fig.add_axes([128 / W, 1 - 462 / H, 980 / W, 458 / H])
ax2 = fig.add_axes([128 / W, 1 - 1013 / H, 980 / W, 459 / H])

gray = '#808080'
LOGG = r'${\rm log}g$'
top_all = (top_left + top_left_dense + top_left_low + top_core + top_core2 + top_core3
           + top_mid + top_mid_low + top_upper)
tx = [p[0] for p in top_all]
ty = [p[1] for p in top_all]
ax1.scatter(tx, ty, s=15, c=gray, linewidths=0, zorder=1)

xl = np.array([3.6, 1.2])
for T in teff_lines:
    ax1.plot(xl, fit_a * xl + fit_b * T + fit_c, color='black', lw=1.6, zorder=2)

ax1.text(1.712, 1.656, teff_labels[0], fontsize=18.3, rotation=10.8, rotation_mode='anchor',
         ha='left', va='baseline')
ax1.text(1.712, 2.203, teff_labels[1], fontsize=18.3, rotation=10.8, rotation_mode='anchor',
         ha='left', va='baseline')
ax1.text(2.826, 3.421, r'${\rm log}g_{\rm ASPCAP}$=0.41 ${\rm log}g_{\rm KIC}$ + 0.00054 T$_{\rm eff,\!KIC}$-1.13',
         fontsize=18.7, ha='left', va='baseline')

ax1.set_xlim(3.6, 1.2)
ax1.set_ylim(3.6, 1.2)
ax1.set_xticks(xticks)
ax1.set_yticks(top_yticks)
ax1.set_xlabel('KIC ' + LOGG, fontsize=25, labelpad=4)
ax1.set_ylabel('Seismic ' + LOGG, fontsize=25.5)

bot_all = bot_left + bot_mid + bot_core + bot_core2 + bot_core3 + bot_right
bx = [p[0] for p in bot_all]
by = [p[1] for p in bot_all]
ax2.scatter(bx, by, s=15, c=gray, linewidths=0, zorder=1)
ax2.fill_between(bin_x, bin_lower, bin_upper, color='blue', alpha=0.17, linewidth=0, zorder=2)
ax2.axhline(0, color='black', lw=1.6, zorder=3)
ax2.plot(bin_x, bin_mean, color='blue', lw=4.3, label='Mean', zorder=5, solid_joinstyle='miter')
ax2.plot(bin_x, bin_upper, color='blue', lw=1.6, label='Standard Deviation', zorder=4)
ax2.plot(bin_x, bin_lower, color='blue', lw=1.6, zorder=4)

ax2.set_xlim(3.6, 1.2)
ax2.set_ylim(-2.0, 2.0)
ax2.set_xticks(xticks)
ax2.set_yticks(bot_yticks)
ax2.set_xlabel('KIC ' + LOGG, fontsize=25, labelpad=4)
ax2.set_ylabel('Seismic ' + r'${\rm log}g$-FIT', fontsize=25.5)

leg = ax2.legend(loc='upper left', fontsize=22.7, handlelength=1.95, handletextpad=1.0,
                 fancybox=False, framealpha=1, edgecolor='black', borderaxespad=0.5,
                 labelspacing=0.45, borderpad=0.3)
leg.get_frame().set_linewidth(1.5)

for ax in (ax1, ax2):
    ax.tick_params(direction='in', length=7, width=1, labelsize=19.5, top=True, right=True, pad=6)
    for sp in ax.spines.values():
        sp.set_linewidth(1.5)

fig.savefig('out.png', dpi=100)
